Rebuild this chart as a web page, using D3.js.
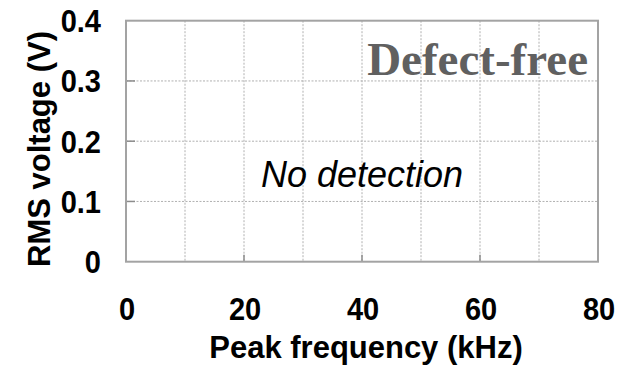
<!DOCTYPE html>
<html>
<head>
<meta charset="utf-8">
<script src="https://cdn.jsdelivr.net/npm/d3@7"></script>
<style>
  html, body { margin: 0; padding: 0; background: #fff; }
  svg { display: block; }
</style>
</head>
<body>
<svg id="chart" width="618" height="367"></svg>
<script>
// Axis ranges and tick values
const xDomain = [0, 80];
const yDomain = [0, 0.4];
const xTickValues = [0, 20, 40, 60, 80];
const yTickValues = [0, 0.1, 0.2, 0.3, 0.4];
const xGridValues = [10, 20, 30, 40, 50, 60, 70];
const yGridValues = [0.1, 0.2, 0.3];

// Measured peaks (none detected for the defect-free specimen)
const peakFrequency = [];
const rmsVoltage = [];

const xTitle = "Peak frequency (kHz)";
const yTitle = "RMS voltage (V)";
const panelLabel = "Defect-free";
const noteLabel = "No detection";

const svg = d3.select("#chart");
const margin = { left: 126, right: 20, top: 20.7, bottom: 105.3 };
const W = 618, H = 367;
const x = d3.scaleLinear().domain(xDomain).range([margin.left, W - margin.right]);
const y = d3.scaleLinear().domain(yDomain).range([H - margin.bottom, margin.top]);

const frameColor = "#a3a3a3";
const gridColor = "#b0b0b0";
const boldFont = "'Liberation Sans', Arial, sans-serif";

// Dotted grid
svg.append("g").selectAll("line.vg").data(xGridValues).join("line")
  .attr("x1", d => x(d)).attr("x2", d => x(d))
  .attr("y1", y(yDomain[1])).attr("y2", y(yDomain[0]))
  .attr("stroke", gridColor).attr("stroke-width", 1).attr("stroke-dasharray", "2,1.5");
svg.append("g").selectAll("line.hg").data(yGridValues).join("line")
  .attr("x1", x(xDomain[0])).attr("x2", x(xDomain[1]))
  .attr("y1", d => y(d)).attr("y2", d => y(d))
  .attr("stroke", gridColor).attr("stroke-width", 1).attr("stroke-dasharray", "2,1.5");

// Points (empty: nothing detected)
svg.append("g").selectAll("circle").data(peakFrequency.map((f, i) => [f, rmsVoltage[i]])).join("circle")
  .attr("cx", d => x(d[0])).attr("cy", d => y(d[1])).attr("r", 4).attr("fill", "#000");

// Inward ticks
svg.append("g").selectAll("line.yt").data(yTickValues.slice(1, -1)).join("line")
  .attr("x1", x(0)).attr("x2", x(0) + 9)
  .attr("y1", d => y(d)).attr("y2", d => y(d))
  .attr("stroke", "#8c8c8c").attr("stroke-width", 1.5);
svg.append("g").selectAll("line.xt").data(xTickValues.slice(1, -1)).join("line")
  .attr("x1", d => x(d)).attr("x2", d => x(d))
  .attr("y1", y(0)).attr("y2", y(0) - 7)
  .attr("stroke", "#8c8c8c").attr("stroke-width", 1.5);

// Frame
svg.append("rect")
  .attr("x", x(xDomain[0])).attr("y", y(yDomain[1]))
  .attr("width", x(xDomain[1]) - x(xDomain[0]))
  .attr("height", y(yDomain[0]) - y(yDomain[1]))
  .attr("fill", "none").attr("stroke", frameColor).attr("stroke-width", 2);

// Tick labels (slightly tall glyphs)
const fmtY = d => d === 0 ? "0" : d3.format(".1f")(d);
svg.append("g").selectAll("text").data(yTickValues).join("text")
  .attr("transform", d => `translate(101,${y(d) + 11.5}) scale(1,1.06)`)
  .attr("text-anchor", "end")
  .attr("font-family", boldFont).attr("font-weight", "bold").attr("font-size", 29)
  .attr("fill", "#000").text(fmtY);
svg.append("g").selectAll("text").data(xTickValues).join("text")
  .attr("transform", d => `translate(${x(d) + 1},320) scale(1,1.06)`)
  .attr("text-anchor", "middle")
  .attr("font-family", boldFont).attr("font-weight", "bold").attr("font-size", 29)
  .attr("fill", "#000").text(d => d);

// Axis titles
svg.append("text")
  .attr("transform", `translate(${x(40) + 4},358) scale(1,1.04)`)
  .attr("text-anchor", "middle")
  .attr("font-family", boldFont).attr("font-weight", "bold").attr("font-size", 31)
  .attr("fill", "#000").text(xTitle);
svg.append("text")
  .attr("transform", "translate(49.5,149) rotate(-90)")
  .attr("text-anchor", "middle")
  .attr("font-family", boldFont).attr("font-weight", "bold").attr("font-size", 31)
  .attr("fill", "#000").text(yTitle);

// Annotations
svg.append("text")
  .attr("x", 588).attr("y", 75)
  .attr("text-anchor", "end")
  .attr("font-family", "'Liberation Serif', 'Times New Roman', serif")
  .attr("font-weight", "bold").attr("font-size", 47)
  .attr("fill", "#606060").text(panelLabel);
svg.append("text")
  .attr("x", 362).attr("y", 187)
  .attr("text-anchor", "middle")
  .attr("font-family", boldFont).attr("font-style", "italic").attr("font-size", 36)
  .attr("fill", "#000").text(noteLabel);
</script>
</body>
</html>
